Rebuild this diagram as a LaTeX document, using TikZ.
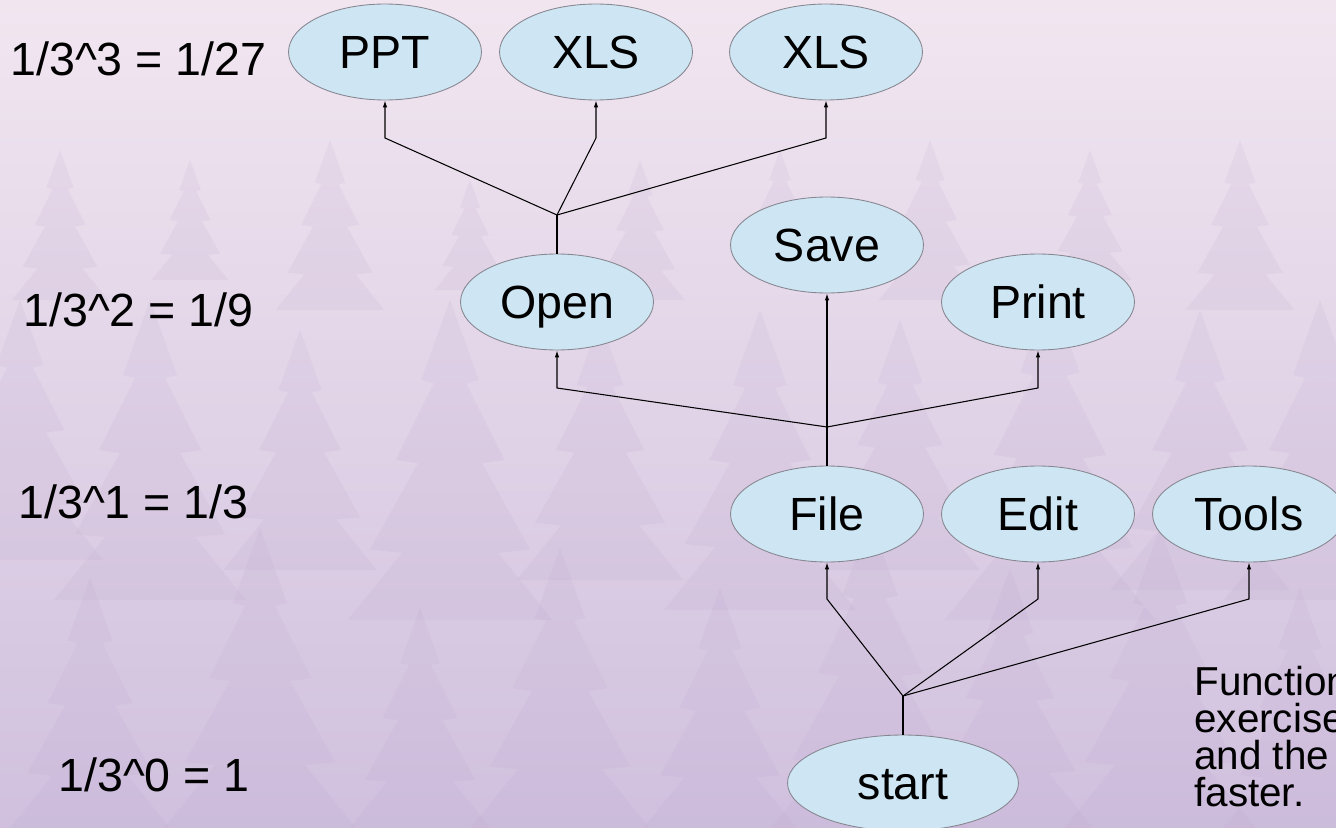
\documentclass[tikz,border=0pt]{standalone}
\usepackage{fontspec}
\setmainfont{Liberation Sans}
\usetikzlibrary{positioning,shapes.geometric,arrows.meta}
\definecolor{bubble}{RGB}{206,230,243}
\definecolor{rim}{RGB}{135,135,145}
\definecolor{skytop}{RGB}{241,230,240}
\definecolor{skymid}{RGB}{224,212,232}
\definecolor{skybot}{RGB}{208,192,222}
\definecolor{pine}{RGB}{184,162,202}

\begin{document}
\begin{tikzpicture}[x=0.02cm,y=-0.02cm,>={Latex[length=1.4mm,width=0.9mm]},
	menu/.style={ellipse,draw=rim,line width=0.5pt,fill=bubble,%
		minimum width=3.86cm,minimum height=1.92cm,inner sep=0pt,%
		text height=19pt,text depth=0pt,%
		font=\fontsize{26.5}{30}\selectfont},
	level/.style={anchor=base west,inner sep=0pt,font=\fontsize{26.5}{30}\selectfont},
	link/.style={line width=0.6pt}]
\useasboundingbox (0,0) rectangle (1336,828);
\clip (0,0) rectangle (1336,828);

% backdrop
\shade[top color=skytop,middle color=skymid,bottom color=skybot] (0,0) rectangle (1336,828);
\foreach \x/\b/\h in {60/300/150,190/280/120,330/310/170,470/290/110,640/300/140,
	780/270/120,930/300/160,1090/280/130,1240/310/170,
	20/560/260,150/600/300,300/570/240,450/620/320,600/580/260,760/610/300,
	900/570/250,1050/620/330,1200/590/280,1320/600/300,
	90/828/250,260/828/300,420/828/220,560/828/280,720/828/240,870/828/310,
	1010/828/260,1160/828/300,1300/828/240}{
	\fill[pine,opacity=.13,shift={(\x,\b)},scale={\h/100}]
		(0,-100) -- (9,-75) -- (5,-74) -- (17,-50) -- (10,-49) -- (25,-22) -- (15,-21) -- (32,0)
		-- (-32,0) -- (-15,-21) -- (-25,-22) -- (-10,-49) -- (-17,-50) -- (-5,-74) -- (-9,-75) -- cycle;
}

% level labels
\node[level] (L3) at (10,76)  {1/3\^{}3 = 1/27};
\node[level] (L2) at (23,326) {1/3\^{}2 = 1/9};
\node[level] (L1) at (18,518) {1/3\^{}1 = 1/3};
\node[level] (L0) at (58,791) {1/3\^{}0 = 1};

% menu tree
\node[menu] (PPT)   at (385,52)  {PPT};
\node[menu] (XLSa)  at (596,52)  {XLS};
\node[menu] (XLSb)  at (826,52)  {XLS};
\node[menu] (Open)  at (557,302) {Open};
\node[menu] (Save)  at (827,245) {Save};
\node[menu] (Print) at (1038,302) {Print};
\node[menu] (File)  at (827,514) {File};
\node[menu] (Edit)  at (1038,514) {Edit};
\node[menu] (Tools) at (1249,514) {Tools};
\node[menu,minimum width=4.62cm] (start) at (903,783) {start};

\node[anchor=north west,align=left,inner sep=0pt,%
	font=\fontsize{23}{21}\selectfont] (note) at (1194,666)
	{Function\\exercise\\and the\\faster.};

% connectors
\coordinate (forkS) at (903,696);
\coordinate (kneeS) at (0,599);
\draw[link] (start.north) -- (forkS);
\foreach \n in {File,Edit,Tools}{
	\draw[link,->] (forkS) -- (kneeS -| \n) -- (\n.south);
}
\coordinate (forkF) at (827,427);
\coordinate (kneeF) at (0,388);
\draw[link,->] (File.north) -- (Save.south);
\foreach \n in {Open,Print}{
	\draw[link,->] (forkF) -- (kneeF -| \n) -- (\n.south);
}
\coordinate (forkO) at (557,215);
\coordinate (kneeO) at (0,138);
\draw[link] (Open.north) -- (forkO);
\foreach \n in {PPT,XLSa,XLSb}{
	\draw[link,->] (forkO) -- (kneeO -| \n) -- (\n.south);
}
\end{tikzpicture}
\end{document}
